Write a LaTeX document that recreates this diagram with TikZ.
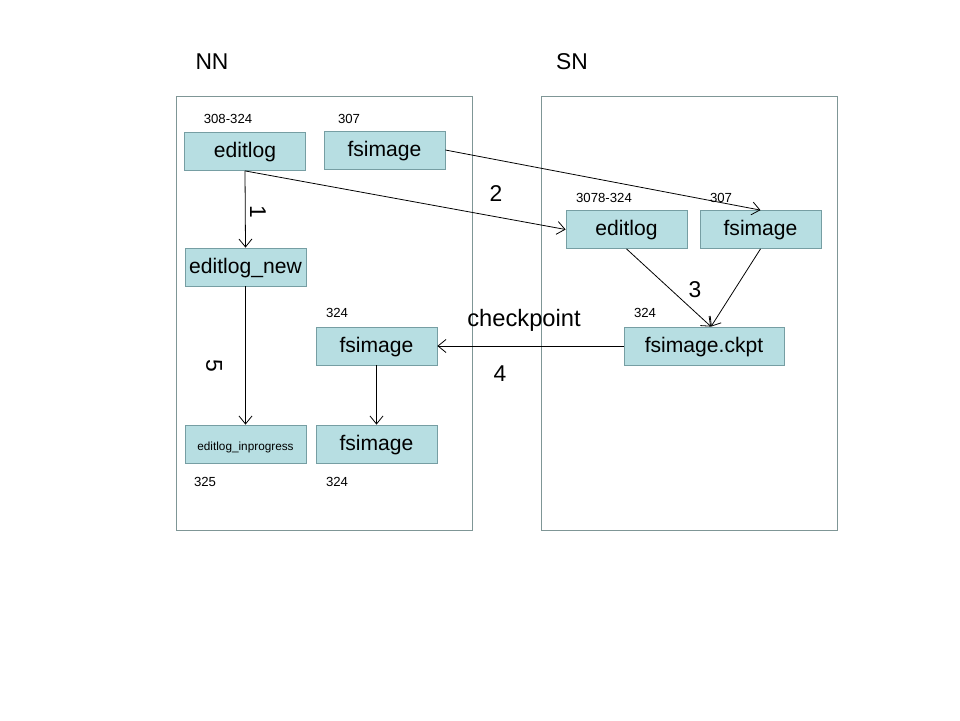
\documentclass[tikz,border=0pt]{standalone}
\usepackage{fontspec}
\setmainfont{Liberation Sans}
\usetikzlibrary{positioning}
\usetikzlibrary{arrows.meta}
\definecolor{boxfill}{RGB}{183,222,226}
\definecolor{boxline}{RGB}{118,158,163}
\definecolor{frameline}{RGB}{127,150,150}

\begin{document}
\begin{tikzpicture}[
			x=0.02cm, y=-0.02cm,
			box/.style={rectangle, draw=boxline, line width=0.45pt, fill=boxfill, minimum width=2.42cm, minimum height=0.76cm, inner sep=0pt, text height=1.45ex, text depth=0.1ex, font=\fontsize{12}{14}\selectfont},
			frame/.style={draw=frameline, line width=0.45pt},
			tag/.style={font=\fontsize{7.5}{9}\selectfont, inner sep=0pt},
			big/.style={font=\fontsize{13}{15}\selectfont, inner sep=0pt},
			arrow/.style={-{Straight Barb[length=1.6mm, width=2.6mm]}, line width=0.45pt}
		]
			\useasboundingbox (0,0) rectangle (960,720);

			% Frames
			\draw[frame] (176,96) rectangle (472,530);
			\draw[frame] (541,96) rectangle (837,530);
			\node[big] (nn) at (212,62) {NN};
			\node[big] (sn) at (572,62) {SN};

			% Boxes NN
			\node[box] (editlog) at (245,151.5) {editlog};
			\node[box] (fsimage) at (384.5,150) {fsimage};
			\node[box] (editnew) at (245.5,267) {editlog\_new};
			\node[box] (fsmid) at (376.5,346) {fsimage};
			\node[box, font=\fontsize{6.7}{8}\selectfont] (inprog) at (245.5,444) {editlog\_inprogress};
			\node[box] (fsbot) at (376.5,444) {fsimage};

			% Boxes SN
			\node[box] (snedit) at (626.5,229.5) {editlog};
			\node[box] (snfs) at (760.5,229.5) {fsimage};
			\node[box, minimum width=3.2cm] (ckpt) at (704,346) {fsimage.ckpt};

			% Tags
			\node[tag] (tedit) at (228,119) {308-324};
			\node[tag] (tfs) at (349,119) {307};
			\node[tag] (tsnedit) at (604,198) {3078-324};
			\node[tag] (tsnfs) at (721,198) {307};
			\node[tag] (tckpt) at (645,313) {324};
			\node[tag] (tfsmid) at (337,313) {324};
			\node[tag] (tinprog) at (205,482) {325};
			\node[tag] (tfsbot) at (337,482) {324};

			% Arrows
			\draw[arrow] (editlog.south) -- (editnew.north);
			\draw[arrow] (editlog.south) -- (snedit.west);
			\draw[arrow] (fsimage.east) -- (snfs.north);
			\draw[arrow] (snedit.south) -- ([xshift=4]ckpt.north);
			\draw[arrow] (snfs.south) -- ([xshift=4]ckpt.north);
			\draw[arrow] (ckpt.west) -- (fsmid.east);
			\draw[arrow] (editnew.south) -- (inprog.north);
			\draw[arrow] (fsmid.south) -- (fsbot.north);

			% Step labels
			\node[big, rotate=-90] (one) at (258,212) {1};
			\node[big] (two) at (496,194) {2};
			\node[big] (three) at (695,290) {3};
			\node[big, font=\fontsize{13.5}{15}\selectfont] (chk) at (524,320) {checkpoint};
			\node[big] (four) at (500,374) {4};
			\node[big, rotate=-90] (five) at (214,366) {5};
		\end{tikzpicture}
\end{document}
